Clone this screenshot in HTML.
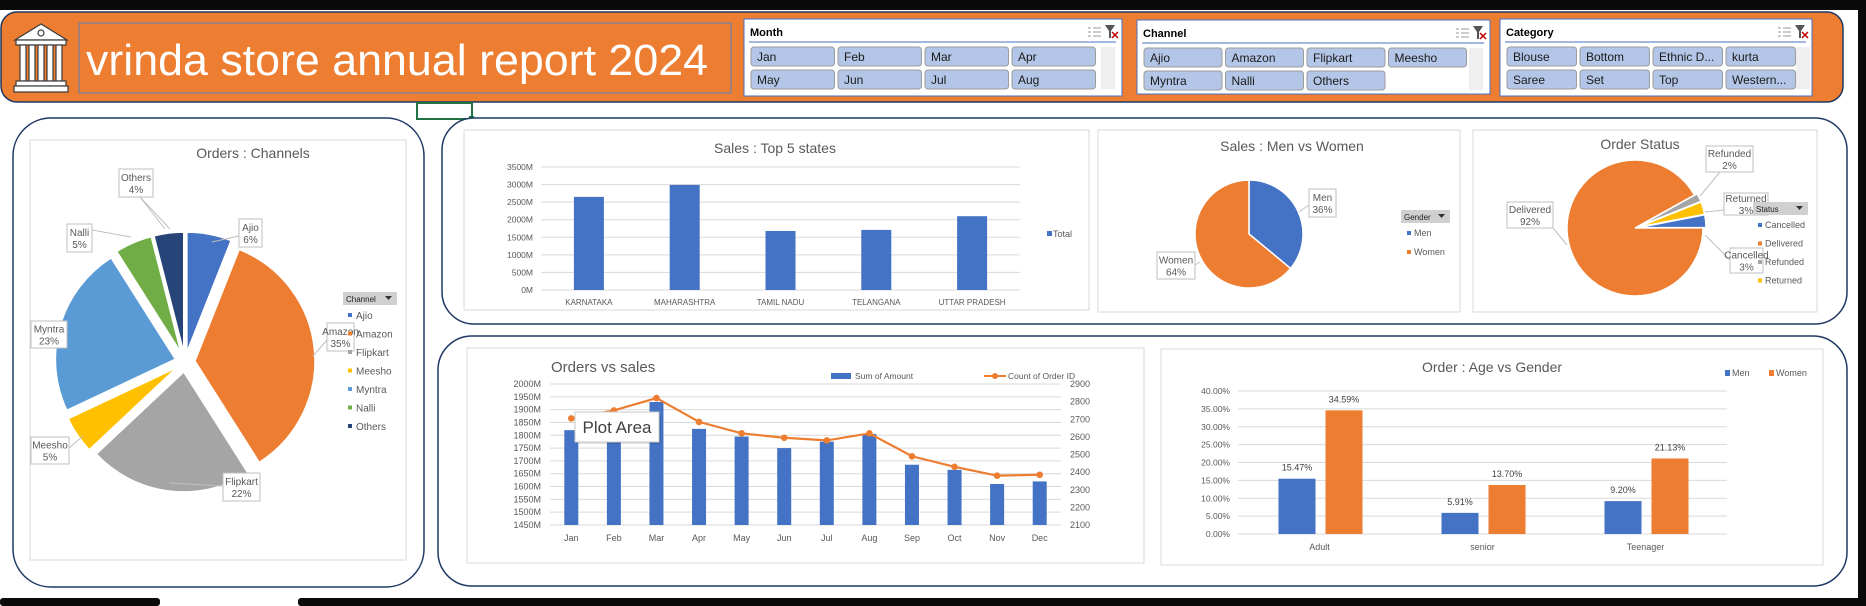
<!DOCTYPE html>
<html><head><meta charset="utf-8"><title>vrinda store annual report 2024</title>
<style>
html,body{margin:0;padding:0;background:#fff;width:1866px;height:606px;overflow:hidden}
svg{display:block;font-family:"Liberation Sans",sans-serif}
</style></head>
<body>
<svg id="root" width="1866" height="606" viewBox="0 0 1866 606" xmlns="http://www.w3.org/2000/svg">
<rect x="0" y="0" width="1866" height="606" fill="#ffffff"/>
<rect x="0" y="0" width="1866" height="10" fill="#0a0a0a"/>
<rect x="1858" y="0" width="8" height="606" fill="#0a0a0a"/>
<rect x="0" y="598" width="160" height="8" rx="3" fill="#0a0a0a"/>
<rect x="298" y="598" width="1568" height="8" rx="3" fill="#0a0a0a"/>

<!-- header -->
<rect x="1" y="12" width="1842" height="90" rx="16" fill="#ed7d31" stroke="#1f3864" stroke-width="1.5"/>
<g fill="#ffffff" stroke="#3a3a3a" stroke-width="1.2">
<polygon points="15,40 41,24 67,40"/>
<circle cx="41" cy="33" r="3" fill="#ffffff"/>
<rect x="16" y="40" width="50" height="5"/>
<rect x="20" y="45" width="6" height="36"/><rect x="29" y="45" width="6" height="36"/><rect x="38" y="45" width="6" height="36"/><rect x="47" y="45" width="6" height="36"/><rect x="56" y="45" width="6" height="36"/>
<rect x="16" y="81" width="50" height="5"/><rect x="14" y="86" width="54" height="6"/>
</g>
<rect x="79" y="23" width="652" height="70" fill="none" stroke="#5b7fbf" stroke-width="1"/>
<text x="86" y="75" font-size="44" fill="#ffffff" textLength="622" lengthAdjust="spacingAndGlyphs">vrinda store annual report 2024</text>

<rect x="417" y="103" width="55" height="16" fill="none" stroke="#217346" stroke-width="2"/>
<rect x="469" y="116" width="5" height="5" fill="#217346"/>

<g id="slicers"></g>

<!-- panels -->
<rect x="13" y="118" width="411" height="469" rx="38" fill="#ffffff" stroke="#1f3864" stroke-width="1.5"/>
<rect x="442" y="118" width="1405" height="206" rx="32" fill="#ffffff" stroke="#1f3864" stroke-width="1.5"/>
<rect x="438" y="336" width="1409" height="250" rx="34" fill="#ffffff" stroke="#1f3864" stroke-width="1.5"/>

<rect x="30" y="140" width="376" height="420" fill="#ffffff" stroke="#d9d9d9"/>
<rect x="464" y="130" width="625" height="180" fill="#ffffff" stroke="#d9d9d9"/>
<rect x="1098" y="130" width="362" height="182" fill="#ffffff" stroke="#d9d9d9"/>
<rect x="1473" y="130" width="344" height="182" fill="#ffffff" stroke="#d9d9d9"/>
<rect x="467" y="348" width="677" height="215" fill="#ffffff" stroke="#d9d9d9"/>
<rect x="1161" y="349" width="662" height="216" fill="#ffffff" stroke="#d9d9d9"/>

<g id="charts"></g>
</svg>

<script>
// ---------- data ----------
const monthButtons = ["Jan","Feb","Mar","Apr","May","Jun","Jul","Aug"];
const channelButtons = ["Ajio","Amazon","Flipkart","Meesho","Myntra","Nalli","Others"];
const categoryButtons = ["Blouse","Bottom","Ethnic D...","kurta","Saree","Set","Top","Western..."];

const channelNames = ["Ajio","Amazon","Flipkart","Meesho","Myntra","Nalli","Others"];
const channelShares = [6,35,22,5,23,5,4];

const stateNames = ["KARNATAKA","MAHARASHTRA","TAMIL NADU","TELANGANA","UTTAR PRADESH"];
const stateSales = [2650,2990,1680,1710,2100];
const stateTicks = [0,500,1000,1500,2000,2500,3000,3500];

const genderNames = ["Men","Women"];
const genderShares = [36,64];

const statusNames = ["Cancelled","Delivered","Refunded","Returned"];
const statusShares = [3,92,2,3];

const months = ["Jan","Feb","Mar","Apr","May","Jun","Jul","Aug","Sep","Oct","Nov","Dec"];
const monthSales = [1820,1830,1930,1825,1795,1750,1775,1805,1685,1665,1610,1620];
const monthOrders = [2705,2750,2820,2685,2620,2595,2580,2620,2490,2430,2380,2385];
const salesTicks = [1450,1500,1550,1600,1650,1700,1750,1800,1850,1900,1950,2000];
const orderTicks = [2100,2200,2300,2400,2500,2600,2700,2800,2900];

const ageGroups = ["Adult","senior","Teenager"];
const ageMen = [15.47,5.91,9.20];
const ageWomen = [34.59,13.70,21.13];
const ageTicks = [0,5,10,15,20,25,30,35,40];

// ---------- helpers ----------
const NS = "http://www.w3.org/2000/svg";
const root = document.getElementById('charts');
const slic = document.getElementById('slicers');
function mk(tag, attrs, parent){
  const e = document.createElementNS(NS, tag);
  for (const k in attrs) e.setAttribute(k, attrs[k]);
  (parent||root).appendChild(e);
  return e;
}
function txt(x,y,s,size,fill,anchor,parent,extra){
  const a = {x:x,y:y,'font-size':size,fill:fill||'#595959','text-anchor':anchor||'start'};
  if (extra) for (const k in extra) a[k]=extra[k];
  const t = mk('text', a, parent);
  t.textContent = s;
  return t;
}
const GRAY='#595959', GRID='#d9d9d9';
const COLORS = ['#4472c4','#ed7d31','#a5a5a5','#ffc000','#5b9bd5','#70ad47','#264478'];

// ---------- slicers ----------
function slicer(name, title, x, y, w, h, items, bx, bw, sbX){
  const g = mk('g', {}, slic);
  
  
  const fr = mk('rect', {x:x,y:y,width:w,height:h,fill:'#ffffff',stroke:'#4472c4','stroke-width':1}, g);
  
  
  const tt = txt(x+6, y+17, title, 11, '#000000', 'start', g, {'font-weight':'bold'});
  
  
  const ln = mk('line', {x1:x+5,y1:y+23,x2:x+w-6,y2:y+23,stroke:'#4472c4','stroke-width':1}, g);
  
  
  const ms = mk('g', {stroke:'#9a9a9a','stroke-width':1}, g);
  
  
  for (let i=0;i<3;i++){ mk('line',{x1:x+w-29,y1:y+9+i*4,x2:x+w-21,y2:y+9+i*4},ms); mk('line',{x1:x+w-34,y1:y+9+i*4,x2:x+w-31,y2:y+9+i*4},ms); }
  const cf = mk('g', {}, g);
  
  
  mk('polygon',{points:`${x+w-17},${y+6} ${x+w-7},${y+6} ${x+w-11},${y+12} ${x+w-11},${y+19} ${x+w-13},${y+19} ${x+w-13},${y+12}`,fill:'#555'},cf);
  mk('path',{d:`M${x+w-10} ${y+13} L${x+w-4} ${y+19} M${x+w-4} ${y+13} L${x+w-10} ${y+19}`,stroke:'#c00000','stroke-width':1.5},cf);
  items.forEach((it,i)=>{
    const r = Math.floor(i/4), c = i%4;
    const X = bx + c*(bw+3.5), Y = y+28 + r*23;
    const b = mk('rect',{x:X,y:Y,width:bw,height:19,rx:3,fill:'#b4c6e7',stroke:'#9b9b9b','stroke-width':1}, g);
    
    
    txt(X+6, Y+14, it, 12, '#1a1a1a', 'start', g);
  });
  const sb = mk('rect',{x:sbX,y:y+28,width:14,height:42,fill:'#efefef'}, g);
  
  
}
slicer('month-slicer','Month',744,19,378,77,monthButtons,751,83.5,1101);
slicer('channel-slicer','Channel',1137,20,353,74,channelButtons,1144,78,1469);
slicer('category-slicer','Category',1500,19,312,77,categoryButtons,1507,69.5,1796);

// ---------- pie helper ----------
function pt(cx,cy,r,a){ const t=a*Math.PI/180; return [cx+r*Math.sin(t), cy-r*Math.cos(t)]; }
function slice(cx,cy,r,a0,a1,fill,parent){
  const p0=pt(cx,cy,r,a0), p1=pt(cx,cy,r,a1);
  const large = (a1-a0)>180?1:0;
  return mk('path',{d:`M${cx} ${cy} L${p0[0]} ${p0[1]} A${r} ${r} 0 ${large} 1 ${p1[0]} ${p1[1]} Z`,fill:fill,stroke:'#ffffff','stroke-width':1.5},parent);
}
function labelBox(x,y,w,h,l1,l2,name){
  const b = mk('rect',{x:x,y:y,width:w,height:h,fill:'#ffffff',stroke:'#bfbfbf','stroke-width':1});
  
  
  txt(x+w/2, y+h/2-2, l1, 10, GRAY, 'middle');
  txt(x+w/2, y+h/2+10, l2, 10, GRAY, 'middle');
}
function leader(pts){ mk('polyline',{points:pts,fill:'none',stroke:'#bfbfbf','stroke-width':1}); }
function legendBtn(x,y,w,label,name){
  const b = mk('rect',{x:x,y:y,width:w,height:13,fill:'#d0d0d0'});
  
  
  txt(x+3,y+10,label,8,'#222','start');
  mk('polygon',{points:`${x+w-12},${y+4} ${x+w-5},${y+4} ${x+w-8.5},${y+8}`,fill:'#333'});
}

// ---------- Orders : Channels ----------
const t1 = txt(253,158,'Orders : Channels',14,GRAY,'middle');


(function(){
  const cx=185, cy=362, r=120, ex=10;
  const total = channelShares.reduce((a,b)=>a+b,0);
  let a=0;
  channelShares.forEach((v,i)=>{
    const sweep = v/total*360, mid=a+sweep/2;
    const o = pt(0,0,ex,mid);
    const s = slice(cx+o[0],cy+o[1],r,a,a+sweep,COLORS[i]);
    
    
    a += sweep;
  });
  leader('239,236 212,242');
  leader('327,340 313,356');
  leader('223,486 170,483');
  leader('69,448 83,436');
  leader('92,230 131,237');
  leader('140,197 170,229');
  leader('140,197 165,229');
  labelBox(239,219,23,28,'Ajio',channelShares[0]+'%','label-ajio');
  labelBox(223,473,37,28,'Flipkart',channelShares[2]+'%','label-flipkart');
  labelBox(31,437,38,27,'Meesho',channelShares[3]+'%','label-meesho');
  labelBox(31,321,36,27,'Myntra',channelShares[4]+'%','label-myntra');
  labelBox(67,224,25,28,'Nalli',channelShares[5]+'%','label-nalli');
  labelBox(119,169,34,28,'Others',channelShares[6]+'%','label-others');
  labelBox(327,323,27,28,'Amazon',channelShares[1]+'%','label-amazon');
  legendBtn(343,292,54,'Channel','channel-legend-filter');
  channelNames.forEach((n,i)=>{
    const y=316+i*18.5;
    const m = mk('rect',{x:348,y:y-3,width:4,height:4,fill:COLORS[i]});
    
    
    txt(356,y+3,n,10,GRAY,'start');
  });
})();

// ---------- Sales : Top 5 states ----------
(function(){
  const x0=541, x1=1020, yb=290, yt=167, vmax=3500;
  const ys = v => yb - v/vmax*(yb-yt);
  const step=(x1-x0)/stateNames.length;
  const t = txt(775,153,'Sales : Top 5 states',14,GRAY,'middle');
  
  
  stateTicks.forEach(v=>{
    const g = mk('line',{x1:x0,y1:ys(v),x2:x1,y2:ys(v),stroke:GRID,'stroke-width':1});
    
    
    txt(533,ys(v)+3,v+'M',8.5,GRAY,'end');
  });
  stateNames.forEach((n,i)=>{
    const c=x0+step*(i+0.5);
    const b = mk('rect',{x:c-15,y:ys(stateSales[i]),width:30,height:yb-ys(stateSales[i]),fill:'#4472c4'});
    
    
    txt(c,305,n,8,GRAY,'middle');
  });
  const lm = mk('rect',{x:1047,y:231,width:5,height:5,fill:'#4472c4'});
  
  
  txt(1053,237,'Total',9,GRAY,'start');
})();

// ---------- Sales : Men vs Women ----------
(function(){
  const t = txt(1292,151,'Sales : Men vs Women',14,GRAY,'middle');
  
  
  const cx=1249, cy=234, r=54;
  const total=genderShares.reduce((a,b)=>a+b,0);
  let a=0;
  genderShares.forEach((v,i)=>{
    const sw=v/total*360;
    const s=slice(cx,cy,r,a,a+sw,COLORS[i]);
    
    
    a+=sw;
  });
  leader('1309,205 1299,212');
  leader('1195,265 1200,262');
  labelBox(1309,189,27,28,'Men',genderShares[0]+'%','label-men');
  labelBox(1157,252,38,27,'Women',genderShares[1]+'%','label-women');
  legendBtn(1401,210,49,'Gender','gender-legend-filter');
  genderNames.forEach((n,i)=>{
    const y=233+i*19;
    const m=mk('rect',{x:1407,y:y-2,width:4,height:4,fill:COLORS[i]});
    
    
    txt(1414,y+3,n,9,GRAY,'start');
  });
})();

// ---------- Order Status ----------
(function(){
  const t = txt(1640,149,'Order Status',14,GRAY,'middle');
  
  
  const cx=1635, cy=228, r=68, firstAngle=79;
  const cols=['#4472c4','#ed7d31','#a5a5a5','#ffc000'];
  const total=statusShares.reduce((a,b)=>a+b,0);
  let a=firstAngle;
  statusShares.forEach((v,i)=>{
    const sw=v/total*360, mid=a+sw/2;
    const ex = v<10?3:0;
    const o=pt(0,0,ex,mid);
    const s=slice(cx+o[0],cy+o[1],r,a,a+sw,cols[i]);
    
    
    a+=sw;
  });
  leader('1553,228 1567,245');
  leader('1730,260 1705,235');
  leader('1724,210 1705,212');
  leader('1720,172 1700,196');
  labelBox(1507,202,46,26,'Delivered',statusShares[1]+'%','label-delivered');
  labelBox(1706,146,47,26,'Refunded',statusShares[2]+'%','label-refunded');
  labelBox(1724,193,44,22,'Returned',statusShares[3]+'%','label-returned');
  labelBox(1730,248,33,25,'Cancelled',statusShares[0]+'%','label-cancelled');
  legendBtn(1753,202,55,'Status','status-legend-filter');
  statusNames.forEach((n,i)=>{
    const y=225+i*18.5;
    const m=mk('rect',{x:1758,y:y-2,width:4,height:4,fill:cols[i]});
    
    
    txt(1765,y+3,n,9,GRAY,'start');
  });
})();

// ---------- Orders vs sales ----------
(function(){
  const x0=550, x1=1061, yt=384, yb=525;
  const yL = v => yb-(v-salesTicks[0])/(salesTicks[salesTicks.length-1]-salesTicks[0])*(yb-yt);
  const yR = v => yb-(v-orderTicks[0])/(orderTicks[orderTicks.length-1]-orderTicks[0])*(yb-yt);
  const step=(x1-x0)/months.length;
  const t = txt(551,372,'Orders vs sales',15,GRAY,'start');
  
  
  salesTicks.forEach(v=>{
    const g=mk('line',{x1:x0,y1:yL(v),x2:x1,y2:yL(v),stroke:GRID,'stroke-width':1});
    
    
    txt(541,yL(v)+3,v+'M',9,GRAY,'end');
  });
  orderTicks.forEach(v=>{ txt(1070,yR(v)+3,String(v),9,GRAY,'start'); });
  months.forEach((m,i)=>{
    const c=x0+step*(i+0.5);
    const b=mk('rect',{x:c-7,y:yL(monthSales[i]),width:14,height:yb-yL(monthSales[i]),fill:'#4472c4'});
    
    
    txt(c,541,m,9,GRAY,'middle');
  });
  const pts=monthOrders.map((v,i)=>`${x0+step*(i+0.5)},${yR(v)}`).join(' ');
  const l=mk('polyline',{points:pts,fill:'none',stroke:'#ed7d31','stroke-width':2.2});
  
  
  monthOrders.forEach((v,i)=>{
    const p=mk('circle',{cx:x0+step*(i+0.5),cy:yR(v),r:3.3,fill:'#ed7d31'});
    
    
  });
  const lg1=mk('rect',{x:831,y:373,width:20,height:6,fill:'#4472c4'});
  
  
  txt(855,379,'Sum of Amount',8.5,GRAY,'start');
  const lg2=mk('line',{x1:984,y1:376,x2:1006,y2:376,stroke:'#ed7d31','stroke-width':2});
  
  
  mk('circle',{cx:995,cy:376,r:3,fill:'#ed7d31'});
  txt(1008,379,'Count of Order ID',8.5,GRAY,'start');
  mk('rect',{x:577,y:414,width:84,height:30,fill:'#000',opacity:0.12,rx:2});
  const tip=mk('rect',{x:575,y:412,width:84,height:30,fill:'#ffffff',stroke:'#c8c8c8','stroke-width':1});
  
  
  txt(617,433,'Plot Area',17,'#404040','middle');
})();

// ---------- Order : Age vs Gender ----------
(function(){
  const x0=1238, x1=1727, yb=534, yt=391, vmax=40;
  const ys=v=>yb-v/vmax*(yb-yt);
  const step=(x1-x0)/ageGroups.length;
  const t=txt(1492,372,'Order : Age vs Gender',14,GRAY,'middle');
  
  
  ageTicks.forEach(v=>{
    const g=mk('line',{x1:x0,y1:ys(v),x2:x1,y2:ys(v),stroke:GRID,'stroke-width':1});
    
    
    txt(1230,ys(v)+3,v.toFixed(2)+'%',8.5,GRAY,'end');
  });
  ageGroups.forEach((g,i)=>{
    const c=x0+step*(i+0.5);
    const bm=mk('rect',{x:c-41,y:ys(ageMen[i]),width:37,height:yb-ys(ageMen[i]),fill:'#4472c4'});
    
    
    const bw=mk('rect',{x:c+6,y:ys(ageWomen[i]),width:37,height:yb-ys(ageWomen[i]),fill:'#ed7d31'});
    
    
    txt(c-22.5,ys(ageMen[i])-8,ageMen[i].toFixed(2)+'%',9,'#404040','middle');
    txt(c+24.5,ys(ageWomen[i])-8,ageWomen[i].toFixed(2)+'%',9,'#404040','middle');
    txt(c,550,g,9,GRAY,'middle');
  });
  const m1=mk('rect',{x:1725,y:370,width:5,height:6,fill:'#4472c4'});
  
  
  txt(1732,376,'Men',9,GRAY,'start');
  const m2=mk('rect',{x:1769,y:370,width:5,height:6,fill:'#ed7d31'});
  
  
  txt(1776,376,'Women',9,GRAY,'start');
})();
</script>
</body></html>
